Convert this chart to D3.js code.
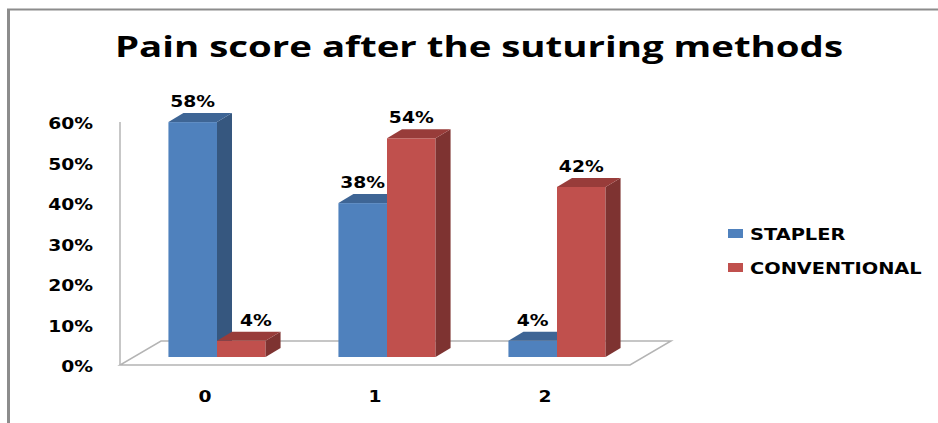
<!DOCTYPE html>
<html>
<head>
<meta charset="utf-8">
<script src="https://cdn.jsdelivr.net/npm/d3@7"></script>
<style>
  html, body { margin: 0; padding: 0; background: #fff; }
  svg { display: block; }
</style>
</head>
<body>
<svg id="chart" width="938" height="423"></svg>
<script>
const title = "Pain score after the suturing methods";
const categories = ["0", "1", "2"];
const seriesNames = ["STAPLER", "CONVENTIONAL"];
const stapler = [0.58, 0.38, 0.04];
const conventional = [0.04, 0.54, 0.42];
const yTicks = [0, 0.1, 0.2, 0.3, 0.4, 0.5, 0.6];

const colors = {
  STAPLER: { front: "#4F81BD", side: "#36577F", top: "#3E6595" },
  CONVENTIONAL: { front: "#C0504D", side: "#7E3331", top: "#983C3A" }
};

const svg = d3.select("#chart");
const W = 938, H = 423;
const numFont = "'DejaVu Sans', Verdana, sans-serif";
const sx = 1.25;

// frame
svg.append("line").attr("x1", 8.5).attr("x2", 8.5).attr("y1", 9).attr("y2", H)
  .attr("stroke", "#8c8c8c").attr("stroke-width", 3);
svg.append("line").attr("x1", 7).attr("x2", W).attr("y1", 9.5).attr("y2", 9.5)
  .attr("stroke", "#8c8c8c").attr("stroke-width", 2);

// title
svg.append("text")
  .attr("x", 479).attr("y", 57)
  .attr("text-anchor", "middle")
  .attr("font-family", "'Open Sans', 'Noto Sans', sans-serif")
  .attr("font-weight", 700)
  .attr("font-size", 29)
  .attr("textLength", 728)
  .attr("lengthAdjust", "spacingAndGlyphs")
  .attr("fill", "#000")
  .text(title);

// scales
const x0 = d3.scaleBand().domain(categories).range([120, 630]).padding(0);
const x1 = d3.scaleBand().domain(seriesNames).range([0, x0.bandwidth()])
  .paddingInner(0).paddingOuter(0.75);
const y = d3.scaleLinear().domain([0, 0.6]).range([365, 122]);

// floor geometry
const floorDX = 41, floorDY = -24;
const barShiftX = 12, barShiftY = -8;
const depthX = 15, depthY = -9;

const [fx0, fx1] = x0.range();
const fy = y(0);
svg.append("path")
  .attr("d", `M${fx0},${fy} L${fx1},${fy} L${fx1 + floorDX},${fy + floorDY} L${fx0 + floorDX},${fy + floorDY} Z`)
  .attr("fill", "#fff")
  .attr("stroke", "#b4b4b4")
  .attr("stroke-width", 1.5);

// vertical axis line
svg.append("line")
  .attr("x1", fx0).attr("x2", fx0)
  .attr("y1", y(0.6)).attr("y2", y(0))
  .attr("stroke", "#b4b4b4").attr("stroke-width", 1.5);

// y axis
const fmt = d3.format(".0%");
const yAxis = d3.axisLeft(y).tickValues(yTicks).tickFormat(fmt).tickSize(0).tickPadding(0);
const gy = svg.append("g").attr("transform", "translate(93,6.5)").call(yAxis);
gy.select(".domain").remove();
gy.selectAll("text")
  .attr("font-family", numFont).attr("font-weight", "bold").attr("font-size", 15)
  .attr("fill", "#000").attr("dy", "0").attr("x", 0)
  .attr("transform", `scale(${sx},1)`);

// x axis (category labels at floor front)
const xAxis = d3.axisBottom(x0).tickSize(0).tickPadding(0);
const gx = svg.append("g").attr("transform", "translate(0,402)").call(xAxis);
gx.select(".domain").remove();
gx.selectAll("text")
  .attr("font-family", numFont).attr("font-weight", "bold").attr("font-size", 15)
  .attr("fill", "#000").attr("dy", "0").attr("y", 0)
  .attr("transform", `scale(${sx},1)`);

// bars
const data = categories.map((c, i) => ({
  cat: c,
  values: [
    { s: "STAPLER", v: stapler[i] },
    { s: "CONVENTIONAL", v: conventional[i] }
  ]
}));

const barsG = svg.append("g");
const labels = [];
data.forEach(d => {
  let prev = null;
  d.values.forEach(b => {
    const left = x0(d.cat) + x1(b.s) + barShiftX;
    const w = x1.bandwidth();
    const top = y(b.v) + barShiftY;
    const bottom = y(0) + barShiftY;
    const c = colors[b.s];
    barsG.append("rect").attr("x", left).attr("y", top).attr("width", w).attr("height", bottom - top)
      .attr("fill", c.front);
    barsG.append("path")
      .attr("d", `M${left + w},${top} L${left + w + depthX},${top + depthY} L${left + w + depthX},${bottom + depthY} L${left + w},${bottom} Z`)
      .attr("fill", c.side);
    barsG.append("path")
      .attr("d", `M${left},${top} L${left + depthX},${top + depthY} L${left + w + depthX},${top + depthY} L${left + w},${top} Z`)
      .attr("fill", c.top);

    labels.push({ text: fmt(b.v), cx: left + w / 2, y: top - 15, top, prev });
    prev = { right: left + w + depthX, top };
  });
});

const lg = svg.append("g");
labels.forEach(l => {
  const t = lg.append("text")
    .attr("font-family", numFont).attr("font-weight", "bold").attr("font-size", 15)
    .attr("fill", "#000").attr("text-anchor", "middle")
    .text(l.text);
  let cx = l.cx;
  const tw = t.node().getComputedTextLength() * sx;
  if (l.prev && l.prev.top < l.y && cx - tw / 2 < l.prev.right + 8) {
    cx = l.prev.right + 8 + tw / 2;
  }
  t.attr("transform", `translate(${cx},${l.y}) scale(${sx},1)`);
});

// legend
const legend = svg.append("g");
seriesNames.forEach((s, i) => {
  const yy = 240 + i * 34;
  legend.append("rect").attr("x", 728).attr("y", yy - 11).attr("width", 15).attr("height", 9)
    .attr("fill", colors[s].front);
  legend.append("text")
    .attr("transform", `translate(750,${yy}) scale(${sx},1)`)
    .attr("font-family", numFont).attr("font-weight", "bold").attr("font-size", 15.5)
    .attr("fill", "#000")
    .text(s);
});
</script>
</body>
</html>
